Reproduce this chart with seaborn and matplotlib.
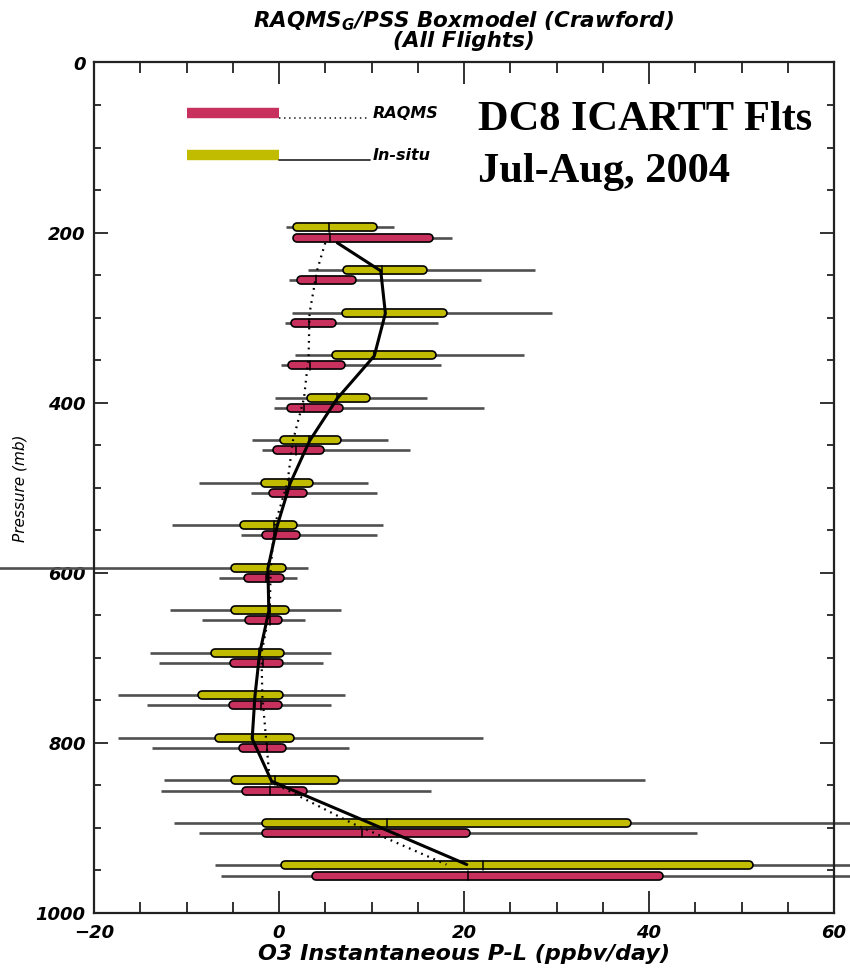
import numpy as np
import pandas as pd
import matplotlib
matplotlib.use("Agg")
import matplotlib.pyplot as plt
from matplotlib.ticker import MultipleLocator
import seaborn as sns

# ---------------- data ----------------
levels = [200, 250, 300, 350, 400, 450, 500, 550, 600, 650, 700, 750, 800, 850, 900, 950]

insitu_min = [0.8, 3.1, 1.4, 1.7, -0.4, -2.9, -8.6, -11.6, -31.0, -11.8, -13.9, -17.4, -17.4, -12.4, -11.4, -6.9]
insitu_q1 = [1.9, 7.3, 7.2, 6.2, 3.5, 0.5, -1.5, -3.8, -4.8, -4.8, -6.9, -8.3, -6.5, -4.8, -1.4, 0.7]
insitu_med = [5.4, 11.1, 11.5, 10.3, 6.3, 3.2, 1.1, -0.5, -1.2, -1.0, -2.2, -2.6, -2.8, -0.4, 11.7, 22.1]
insitu_q3 = [10.2, 15.6, 17.7, 16.5, 9.4, 6.3, 3.2, 1.5, 0.3, 0.7, 0.1, 0.0, 1.2, 6.1, 37.6, 50.8]
insitu_max = [12.4, 27.7, 29.5, 26.5, 16.0, 11.8, 9.6, 11.2, 3.1, 6.7, 5.6, 7.1, 22.0, 39.6, 62.0, 62.0]

raqms_min = [1.5, 1.1, 0.6, 0.2, -0.5, -1.8, -3.0, -4.1, -6.5, -8.3, -13.0, -14.3, -13.7, -12.8, -8.6, -6.3]
raqms_q1 = [1.9, 2.4, 1.7, 1.4, 1.3, -0.2, -0.6, -1.4, -3.3, -3.2, -4.9, -5.0, -3.9, -3.6, -1.4, 4.0]
raqms_med = [5.5, 4.0, 3.2, 3.3, 2.7, 1.8, 0.8, -0.5, -1.4, -1.0, -1.7, -1.9, -1.3, -1.0, 9.0, 20.4]
raqms_q3 = [16.2, 7.9, 5.7, 6.7, 6.5, 4.4, 2.6, 1.8, 0.1, -0.1, 0.0, -0.1, 0.3, 2.6, 20.2, 41.1]
raqms_max = [18.7, 21.8, 17.2, 17.5, 22.2, 14.2, 10.6, 10.6, 1.9, 2.8, 4.8, 5.6, 7.6, 16.4, 45.2, 62.0]

# smoothed median profiles
profile_p = [212, 245, 295, 345, 395, 445, 495, 545, 595, 645, 695, 745, 795, 845, 895, 943]
insitu_profile = [6.3, 11.0, 11.5, 10.3, 6.3, 3.3, 1.2, -0.2, -1.2, -1.1, -2.1, -2.6, -2.9, -0.8, 10.0, 20.3]
raqms_profile = [5.0, 4.1, 3.3, 3.2, 2.7, 1.5, 0.9, -0.5, -0.9, -1.0, -1.9, -1.8, -1.4, -1.0, 8.0, 18.1]

x_ticks = [-20, 0, 20, 40, 60]
y_ticks = [0, 200, 400, 600, 800, 1000]

title = "RAQMS$_\\mathregular{G}$/PSS Boxmodel (Crawford)\n(All Flights)"
xlabel = "O3 Instantaneous P-L (ppbv/day)"
ylabel = "Pressure (mb)"
series_names = ["RAQMS", "In-situ"]
annot_lines = ["DC8 ICARTT Flts", "Jul-Aug, 2004"]

# ---------------- styling ----------------
sns.set_theme(style="ticks")
plt.rcParams["font.family"] = ["DejaVu Sans"]
plt.rcParams["mathtext.default"] = "regular"
plt.rcParams["text.color"] = "black"
plt.rcParams["axes.labelcolor"] = "black"
plt.rcParams["xtick.color"] = "black"
plt.rcParams["ytick.color"] = "black"

MAG = "#C8305E"
YEL = "#C2BC00"
WHISK = "#505050"

fig = plt.figure(figsize=(8.5, 9.71), dpi=100)
ax = fig.add_axes([94 / 850, 58 / 971, 740 / 850, 850.5 / 971])

df = pd.DataFrame({
    "p": levels,
    "in_min": insitu_min, "in_q1": insitu_q1, "in_med": insitu_med, "in_q3": insitu_q3, "in_max": insitu_max,
    "rq_min": raqms_min, "rq_q1": raqms_q1, "rq_med": raqms_med, "rq_q3": raqms_q3, "rq_max": raqms_max,
})

offset = 6.0
half_h = 5.0
for _, r in df.iterrows():
    for pre, dp, col in (("in", -offset, YEL), ("rq", offset, MAG)):
        yy = r["p"] + dp
        ax.plot([r[pre + "_min"], r[pre + "_max"]], [yy, yy], color=WHISK, lw=1.9,
                solid_capstyle="butt", zorder=2, clip_on=False)
        ax.plot([r[pre + "_q1"], r[pre + "_q3"]], [yy, yy], color="black", lw=7.0,
                solid_capstyle="round", zorder=3)
        ax.plot([r[pre + "_q1"], r[pre + "_q3"]], [yy, yy], color=col, lw=4.6,
                solid_capstyle="round", zorder=4)
        ax.plot([r[pre + "_med"], r[pre + "_med"]], [yy - half_h, yy + half_h], color="black",
                lw=1.1, zorder=5)

prof = pd.DataFrame({"p": profile_p, "insitu": insitu_profile, "raqms": raqms_profile})
sns.lineplot(data=prof, x="insitu", y="p", orient="y", sort=False, color="black", lw=2.2,
             ax=ax, zorder=6)
sns.lineplot(data=prof, x="raqms", y="p", orient="y", sort=False, color="black", lw=1.6,
             linestyle=(0, (0.8, 2.2)), ax=ax, zorder=6)

ax.set_xlim(x_ticks[0], x_ticks[-1])
ax.set_ylim(y_ticks[-1], y_ticks[0])
ax.set_xticks(x_ticks)
ax.set_yticks(y_ticks)
ax.xaxis.set_minor_locator(MultipleLocator(5))
ax.yaxis.set_minor_locator(MultipleLocator(50))
ax.tick_params(axis="both", which="both", direction="in", top=True, right=True,
               color="#222222", width=1.3)
ax.tick_params(axis="x", which="major", length=16, pad=8)
ax.tick_params(axis="x", which="minor", length=8)
ax.tick_params(axis="y", which="major", length=10, pad=6)
ax.tick_params(axis="y", which="minor", length=5)
for lab in ax.get_xticklabels() + ax.get_yticklabels():
    lab.set_fontsize(13)
    lab.set_fontweight("bold")
    lab.set_fontstyle("italic")
for s in ax.spines.values():
    s.set_linewidth(1.6)
    s.set_color("#222222")

ax.set_xlabel(xlabel, fontsize=16, fontweight="bold", fontstyle="italic", labelpad=1)
ax.set_ylabel(ylabel, fontsize=11, fontstyle="italic", labelpad=6)
ax.set_title(title, fontsize=15.5, fontweight="bold", fontstyle="italic", linespacing=0.9, pad=11)

# legend (drawn in axes fraction)
tr = ax.transAxes
for yf, col, ls, name in ((0.9406, MAG, (0, (0.8, 2.0)), series_names[0]),
                          (0.8912, YEL, "-", series_names[1])):
    ax.plot([0.1257, 0.25], [yf, yf], color=col, lw=7.5, solid_capstyle="butt", transform=tr)
    ax.plot([0.25, 0.373], [yf - 0.006, yf - 0.006], color="#333333", lw=1.3, linestyle=ls, transform=tr)
    ax.text(0.377, yf, name, transform=tr, fontsize=11.5, fontweight="bold", fontstyle="italic",
            va="center", ha="left")

for yf, txt in zip((0.921, 0.859), annot_lines):
    ax.text(0.519, yf, txt, transform=tr, fontsize=30.5, fontweight="bold",
            family=["Liberation Serif"], va="baseline", ha="left", color="black")

fig.savefig("out.png", dpi=100, facecolor="white")
